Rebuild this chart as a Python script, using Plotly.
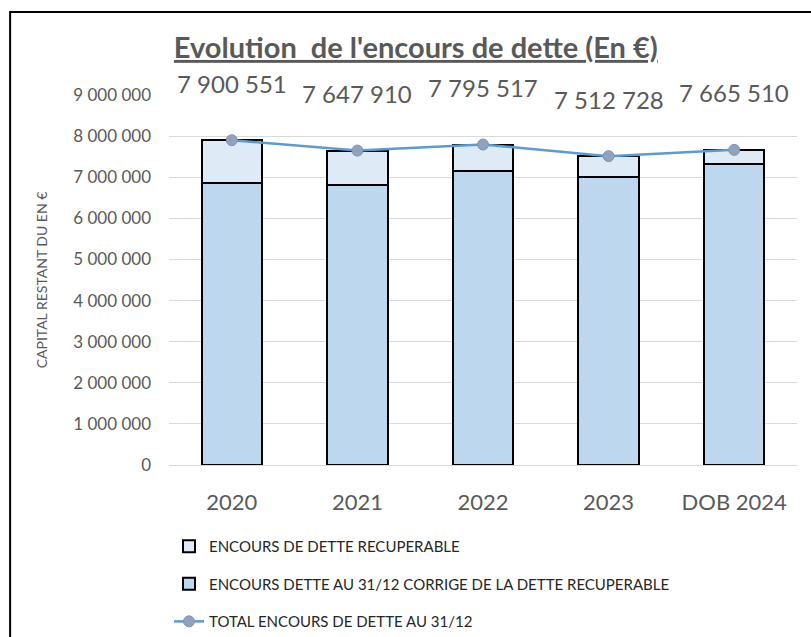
import plotly.graph_objects as go

annees = ["2020", "2021", "2022", "2023", "DOB 2024"]
total = [7900551, 7647910, 7795517, 7512728, 7665510]
corrige = [6860000, 6800000, 7150000, 7010000, 7310000]
recuperable = [t - c for t, c in zip(total, corrige)]

y_ticks = [0, 1000000, 2000000, 3000000, 4000000, 5000000, 6000000, 7000000, 8000000, 9000000]

GRIS = "#595959"
FONT = "Lato, 'Open Sans', sans-serif"


def fmt(v):
    return f"{v:,}".replace(",", " ")


fig = go.Figure()
fig.add_trace(go.Bar(
    x=annees, y=corrige, name="ENCOURS DETTE AU 31/12 CORRIGE DE LA DETTE RECUPERABLE",
    marker=dict(color="#BDD7EE", line=dict(color="black", width=2)),
    legendgroup="b", legendrank=2,
))
fig.add_trace(go.Bar(
    x=annees, y=recuperable, name="ENCOURS DE DETTE RECUPERABLE",
    marker=dict(color="#DEEBF7", line=dict(color="black", width=2)),
    legendgroup="a", legendrank=1,
))
fig.add_trace(go.Scatter(
    x=annees, y=total, name="TOTAL ENCOURS DE DETTE AU 31/12",
    mode="lines+markers",
    line=dict(color="#5B9BD5", width=2.5),
    marker=dict(color="#8FA3BF", size=11, line=dict(color="#7F93B0", width=1)),
    legendgroup="c", legendrank=3,
))

# étiquettes de total (x en index de catégorie)
for i, t in enumerate(total):
    fig.add_annotation(x=i, y=t, text=fmt(t), showarrow=False, yshift=57,
                       font=dict(size=24, color=GRIS, family=FONT))

# cadre du graphique
fig.add_shape(type="rect", xref="paper", yref="paper",
              x0=-0.253, x1=1.5, y0=-1.0, y1=1.224,
              line=dict(color="black", width=2), layer="below")

fig.update_layout(
    barmode="stack",
    bargap=0.52,
    width=811, height=637,
    paper_bgcolor="white", plot_bgcolor="white",
    font=dict(family=FONT, color=GRIS),
    separators=", ",
    margin=dict(l=169, r=14, t=95, b=172, autoexpand=False),
    title=dict(text="<b><u>Evolution  de l'encours de dette (En €)</u></b>",
               x=0.393, xref="paper", xanchor="center", y=0.925, yanchor="middle",
               font=dict(size=29, color=GRIS, family=FONT)),
    xaxis=dict(type="category", range=[-0.5, 4.5], showgrid=False, showline=True,
               linecolor="#D9D9D9", linewidth=1, automargin=False,
               tickfont=dict(size=22, color=GRIS), ticks="", ticklabelstandoff=18),
    yaxis=dict(range=[0, 9000000], tickvals=y_ticks, tickformat=",d",
               gridcolor="#D9D9D9", zeroline=False, automargin=False,
               tickfont=dict(size=17, color=GRIS), ticks="", ticklabelstandoff=17,
               title=dict(text="CAPITAL RESTANT DU EN €", font=dict(size=14, color=GRIS), standoff=22)),
    legend=dict(x=0.0, y=-0.176, xanchor="left", yanchor="top",
                traceorder="grouped", tracegroupgap=15,
                font=dict(size=15, color="#262626", family=FONT)),
)

fig.write_html("out.html", config={"displayModeBar": False},
               post_script="document.body.style.margin='0';")
